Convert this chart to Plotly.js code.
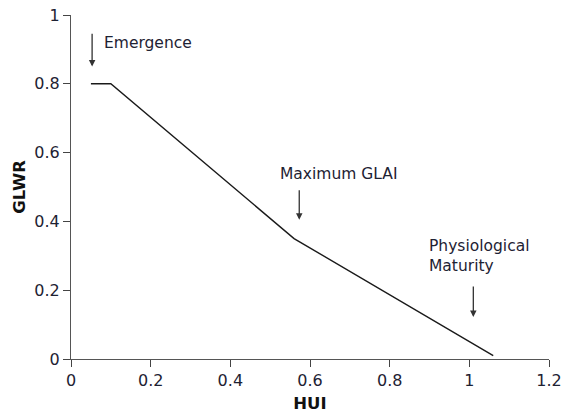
<!DOCTYPE html>
<html>
<head>
<meta charset="utf-8">
<script src="https://cdn.plot.ly/plotly-3.0.1.min.js"></script>
<style>
  html, body { margin: 0; padding: 0; background: #fff; }
  #chart { width: 572px; height: 419px; }
</style>
</head>
<body>
<div id="chart"></div>
<script>
// Green leaf weight ratio against heat unit index
const hui = [0.05, 0.1, 0.56, 1.06];
const glwr = [0.8, 0.8, 0.35, 0.01];

// Stage markers: label, arrow x, arrow top y, arrow tip y, label x, label y, anchor
const stageNames = ['Emergence', 'Maximum GLAI', 'Physiological<br>Maturity'];
const stageX = [0.053, 0.573, 1.01];
const stageTop = [0.95, 0.495, 0.215];
const stageTip = [0.85, 0.405, 0.122];
const labelX = [0.078, 0.672, 0.893];
const labelY = [0.92, 0.538, 0.30];
const labelAnchor = ['left', 'center', 'left'];

const xTicks = [0, 0.2, 0.4, 0.6, 0.8, 1, 1.2];
const yTicks = [0, 0.2, 0.4, 0.6, 0.8, 1];

const font = 'Tahoma, "DejaVu Sans", Verdana, sans-serif';
const ink = '#1e2233';

const annotations = [];
stageNames.forEach((name, i) => {
  annotations.push({
    x: stageX[i], y: stageTip[i], ax: stageX[i], ay: stageTop[i],
    xref: 'x', yref: 'y', axref: 'x', ayref: 'y',
    text: '', showarrow: true, arrowhead: 2, arrowsize: 1,
    arrowwidth: 1.3, arrowcolor: '#333'
  });
  annotations.push({
    x: labelX[i], y: labelY[i], xref: 'x', yref: 'y',
    text: name, showarrow: false, xanchor: labelAnchor[i], yanchor: 'middle',
    align: 'left', font: { family: font, size: 15.5, color: ink }
  });
});

const trace = {
  x: hui, y: glwr, type: 'scatter', mode: 'lines',
  line: { color: '#1a1a1a', width: 1.4 },
  hoverinfo: 'skip'
};

const axisCommon = {
  showgrid: false, zeroline: false, showline: true,
  linecolor: '#555', linewidth: 1,
  ticks: 'outside', ticklen: 7, tickcolor: '#444', tickwidth: 1,
  tickfont: { family: font, size: 16, color: ink }
};

const layout = {
  width: 572, height: 419,
  margin: { l: 71, r: 23, t: 15, b: 60 },
  paper_bgcolor: '#fff', plot_bgcolor: '#fff',
  showlegend: false,
  xaxis: Object.assign({}, axisCommon, {
    range: [0, 1.2], tickvals: xTicks, ticktext: xTicks.map(String),
    title: { text: '<b>HUI</b>', font: { family: font, size: 16.5, color: '#111' }, standoff: 8 }
  }),
  yaxis: Object.assign({}, axisCommon, {
    range: [0, 1], tickvals: yTicks, ticktext: yTicks.map(String),
    title: { text: '<b>GLWR</b>', font: { family: font, size: 16.5, color: '#111' }, standoff: 4 }
  }),
  annotations: annotations
};

Plotly.newPlot('chart', [trace], layout, { displayModeBar: false, staticPlot: true });
</script>
</body>
</html>
